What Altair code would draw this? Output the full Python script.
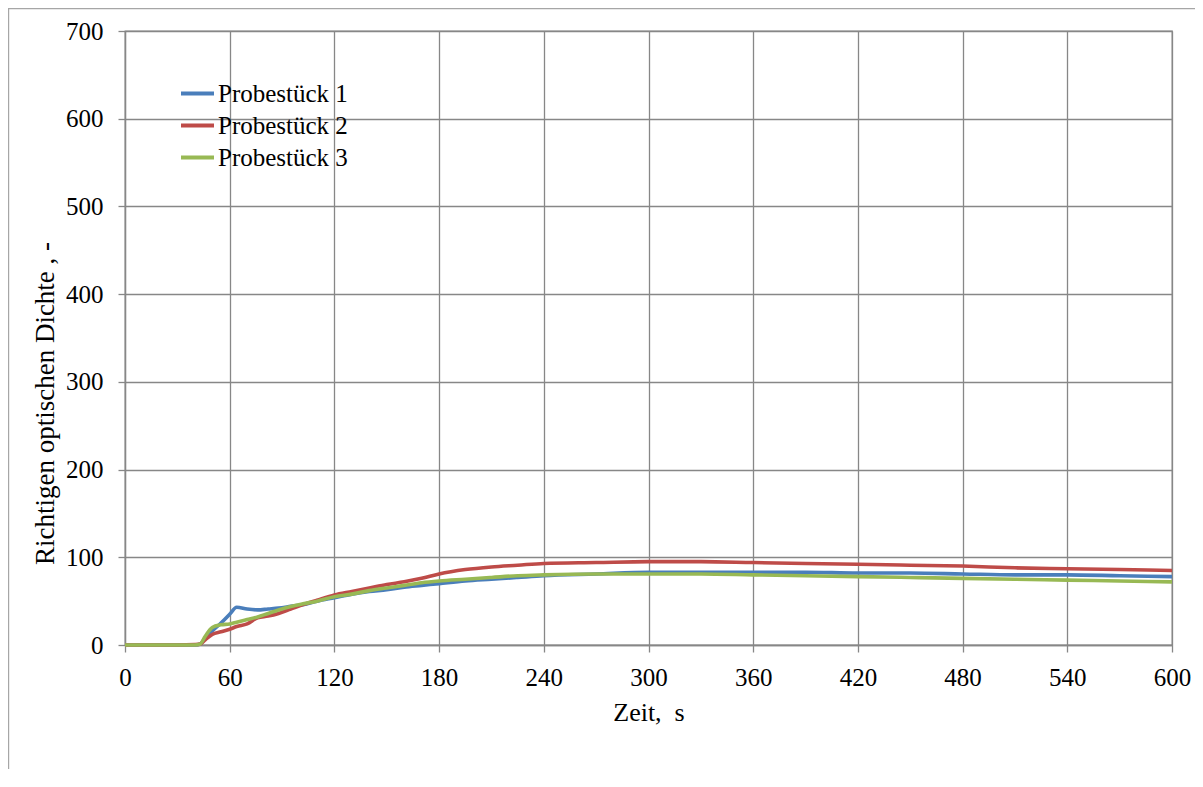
import altair as alt
import pandas as pd

# ---- data ----
time_s = [0, 30, 40, 43, 46, 50, 55, 60, 64, 70, 76, 82, 88, 95, 102, 110, 120,
          130, 140, 150, 160, 170, 180, 195, 210, 225, 240, 270, 300, 330, 360,
          390, 420, 450, 480, 510, 540, 570, 600]
probe1 = [0, 0, 0, 1, 8, 16, 25, 35, 43, 41, 40, 41, 42, 44, 46, 50, 54,
          58, 61, 63, 66, 68, 70, 73, 75, 77, 79, 81, 83, 83, 83,
          83, 82, 82, 81, 80, 80, 79, 78]
probe2 = [0, 0, 0.5, 1, 6, 12, 15, 18, 21, 24, 31, 33, 36, 41, 46, 51, 57,
          61, 65, 69, 72, 76, 81, 86, 89, 91, 93, 94, 95, 95, 94,
          93, 92, 91, 90, 88, 87, 86, 85]
probe3 = [0, 0, 0, 1, 10, 20, 23, 24, 26, 29, 32, 36, 40, 44, 47, 50, 55,
          58, 62, 65, 68, 71, 73, 75, 77, 79, 80, 81, 81, 81, 80,
          79, 78, 77, 76, 75, 74, 73, 72]
series_names = ["Probestück 1", "Probestück 2", "Probestück 3"]
series_colors = ["#4A7EBB", "#BE4B48", "#98B954"]
x_ticks = list(range(0, 601, 60))
y_ticks = list(range(0, 701, 100))

rows = []
for order, (name, vals) in enumerate(zip(series_names, [probe1, probe2, probe3])):
    for t, v in zip(time_s, vals):
        rows.append({"Zeit": t, "Dichte": v, "Serie": name, "ord": order})
df = pd.DataFrame(rows)

FONT = "Liberation Serif"
GRID = "#878787"

lines = alt.Chart(df).mark_line(strokeWidth=3.6, interpolate="monotone").encode(
    x=alt.X("Zeit:Q",
            scale=alt.Scale(domain=[0, 600], nice=False),
            axis=alt.Axis(values=x_ticks, title="Zeit,\u00a0\u00a0s",
                          titleY=75, titleBaseline="alphabetic",
                          labelPadding=13, tickSize=7, labelFlush=False)),
    y=alt.Y("Dichte:Q",
            scale=alt.Scale(domain=[0, 700], nice=False),
            axis=alt.Axis(values=y_ticks, title="Richtigen optischen Dichte , -",
                          titleX=-72, titleY=372, titleBaseline="alphabetic",
                          titleAngle=270, titleAlign="center", titleFontSize=27,
                          labelPadding=15, tickSize=7, labelFlush=False)),
    color=alt.Color("Serie:N",
                    scale=alt.Scale(domain=series_names, range=series_colors),
                    legend=alt.Legend(orient="none", legendX=54, legendY=44,
                                      title=None, symbolType="stroke",
                                      symbolSize=1089, symbolStrokeWidth=4,
                                      labelFont=FONT, labelFontSize=25,
                                      labelColor="black", labelOffset=2,
                                      rowPadding=-6, padding=0)),
    order=alt.Order("ord:Q"),
)

frame_df = pd.DataFrame({"k": [0]})
frame_top = alt.Chart(frame_df).mark_rule(color="#a6a6a6", strokeWidth=1.2).encode(
    x=alt.value(-117), x2=alt.value(1100), y=alt.value(-22.4))
frame_left = alt.Chart(frame_df).mark_rule(color="#a6a6a6", strokeWidth=1.2).encode(
    x=alt.value(-116.4), y=alt.value(-23), y2=alt.value(780))

chart = alt.layer(lines, frame_top, frame_left).properties(
    width=1047, height=614,
    padding={"left": 117, "top": 23, "right": 23, "bottom": 124},
    autosize="none",
).configure(
    background="white"
).configure_view(
    stroke=GRID, strokeWidth=1.3
).configure_axis(
    grid=True, gridColor=GRID, gridWidth=1.3, gridOpacity=1,
    domainColor=GRID, domainWidth=1.3, tickColor=GRID, tickWidth=1.3,
    labelFont=FONT, labelFontSize=25, labelColor="black",
    titleFont=FONT, titleFontSize=26, titleFontWeight="normal", titleColor="black",
)

chart.save("out.html", embed_options={"renderer": "svg", "actions": False})
